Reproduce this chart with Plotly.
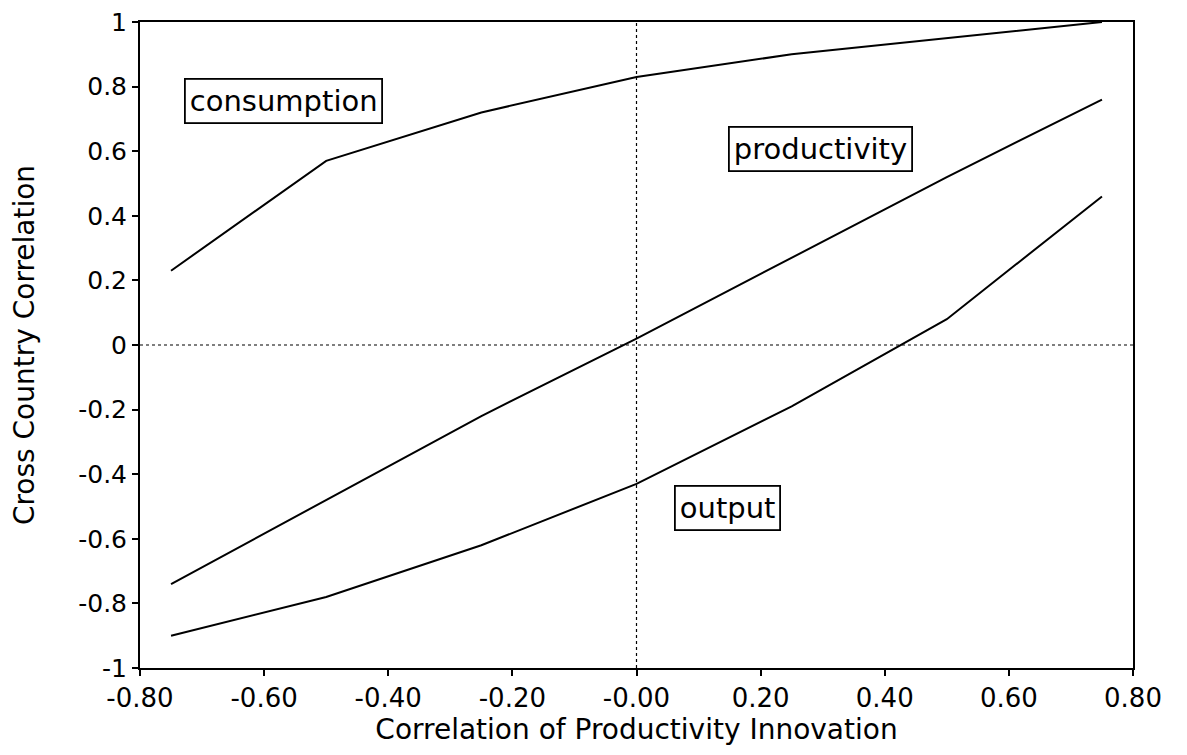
import plotly.graph_objects as go

x_vals = [-0.75, -0.50, -0.25, 0.00, 0.25, 0.50, 0.75]
consumption = [0.23, 0.57, 0.72, 0.83, 0.90, 0.95, 1.00]
productivity = [-0.74, -0.48, -0.22, 0.02, 0.27, 0.52, 0.76]
output = [-0.90, -0.78, -0.62, -0.43, -0.19, 0.08, 0.46]

x_ticks = [-0.8, -0.6, -0.4, -0.2, 0.0, 0.2, 0.4, 0.6, 0.8]
x_ticktext = ["-0.80", "-0.60", "-0.40", "-0.20", "-0.00", "0.20", "0.40", "0.60", "0.80"]
y_ticks = [-1, -0.8, -0.6, -0.4, -0.2, 0, 0.2, 0.4, 0.6, 0.8, 1]
y_ticktext = ["-1", "-0.8", "-0.6", "-0.4", "-0.2", "0", "0.2", "0.4", "0.6", "0.8", "1"]

labels = [("consumption", -0.568, 0.755), ("productivity", 0.297, 0.607), ("output", 0.146, -0.506)]

font_family = "DejaVu Sans, Arial, sans-serif"
fig = go.Figure()
for name, ys in [("consumption", consumption), ("productivity", productivity), ("output", output)]:
    fig.add_trace(go.Scatter(x=x_vals, y=ys, mode="lines", name=name,
                             line=dict(color="black", width=2), showlegend=False))

fig.add_shape(type="line", x0=0, x1=0, y0=-1, y1=1, xref="x", yref="y",
              line=dict(color="black", width=1.2, dash="dot"))
fig.add_shape(type="line", x0=-0.8, x1=0.8, y0=0, y1=0, xref="x", yref="y",
              line=dict(color="black", width=1.2, dash="dot"))

for text, lx, ly in labels:
    fig.add_annotation(x=lx, y=ly, text=text, showarrow=False, xref="x", yref="y",
                       font=dict(size=29, color="black", family=font_family),
                       bordercolor="black", borderwidth=1.8, borderpad=4, bgcolor="white")

fig.update_xaxes(range=[-0.8, 0.8], tickvals=x_ticks, ticktext=x_ticktext, automargin=False,
                 ticklabeloverflow="allow",
                 showgrid=False, zeroline=False, showline=True, linecolor="black", linewidth=2,
                 mirror=True, ticks="outside", ticklen=6, tickcolor="black", tickwidth=1.5,
                 tickfont=dict(size=26, color="black", family=font_family),
                 title=dict(text="Correlation of Productivity Innovation", standoff=6,
                            font=dict(size=28, color="black", family=font_family)))
fig.update_yaxes(range=[-1, 1], tickvals=y_ticks, ticktext=y_ticktext, automargin=False,
                 ticklabeloverflow="allow",
                 showgrid=False, zeroline=False, showline=True, linecolor="black", linewidth=2,
                 mirror=True, ticks="outside", ticklen=6, tickcolor="black", tickwidth=1.5,
                 tickfont=dict(size=25, color="black", family=font_family),
                 title=dict(text="Cross Country Correlation", standoff=40,
                            font=dict(size=28, color="black", family=font_family)))

fig.update_layout(width=1179, height=747, plot_bgcolor="white", paper_bgcolor="white",
                  margin=dict(l=132, r=54, t=14, b=87))
fig.write_html("out.html")
